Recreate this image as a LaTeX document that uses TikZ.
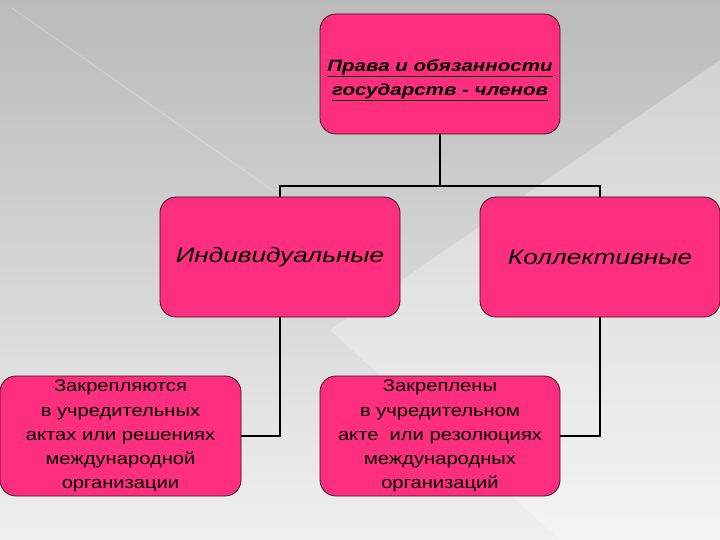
\documentclass[tikz,border=0pt]{standalone}
\usepackage{fontspec}
\setmainfont{Liberation Sans}
\newfontfamily\widesans[FakeStretch=1.25]{Liberation Sans}
\newfontfamily\notesans[FakeStretch=1.19]{Liberation Sans}
\usetikzlibrary{calc}

\definecolor{boxpink}{RGB}{255,46,126}
\definecolor{boxedge}{RGB}{60,10,30}

\tikzset{
    pinkbox/.style={draw=boxedge, line width=0.8bp, fill=boxpink, rounded corners=16bp,
        minimum width=240bp, minimum height=120bp, align=center, inner sep=0pt},
    headtext/.style={font=\widesans\fontsize{16.5}{24}\selectfont\bfseries\itshape},
    kindtext/.style={font=\widesans\fontsize{21}{25}\selectfont\itshape},
    notetext/.style={font=\notesans\fontsize{17}{24.2}\selectfont},
    joint/.style={line width=2.4bp, black}
}

\begin{document}
\begin{tikzpicture}[x=1bp,y=-1bp]

    % background
    \useasboundingbox (0,0) rectangle (720,540);
    \shade[top color={rgb,255:red,186;green,186;blue,186}, bottom color={rgb,255:red,240;green,240;blue,240}] (0,0) rectangle (720,540);
    \fill[white, opacity=0.3] (720,60) -- (720,540) -- (560,540) -- (330,330) -- cycle;
    \draw[white, opacity=0.25, line width=1bp] (12,8) -- (275,192);

    % nodes (boxes)
    \node[pinkbox, headtext] (rights) at (440,74) {\rule{0pt}{25bp}\underline{Права и обязанности}\\\underline{государств - членов}};
    \node[pinkbox, kindtext] (indiv) at (280,257) {Индивидуальные};
    \node[pinkbox, kindtext] (koll) at (600,257) {Коллективные};
    \node[pinkbox, notetext, minimum width=241bp] (fixedorg) at (120.5,436)
        {Закрепляются\\в учредительных\\актах или решениях\\международной\\организации};
    \node[pinkbox, notetext] (fixedint) at (440,436)
        {Закреплены\\в учредительном\\акте~ или резолюциях\\международных\\организаций};

    % paths
    \coordinate (split) at (440,186);
    \draw[joint] (rights.south) -- (split); % top box -> branch
    \draw[joint] (split) -| (indiv.north); % branch -> individual
    \draw[joint] (split) -| (koll.north); % branch -> collective
    \draw[joint] (indiv.south) |- (fixedorg.east); % individual -> organisation acts
    \draw[joint] (koll.south) |- (fixedint.east); % collective -> resolutions

\end{tikzpicture}
\end{document}
